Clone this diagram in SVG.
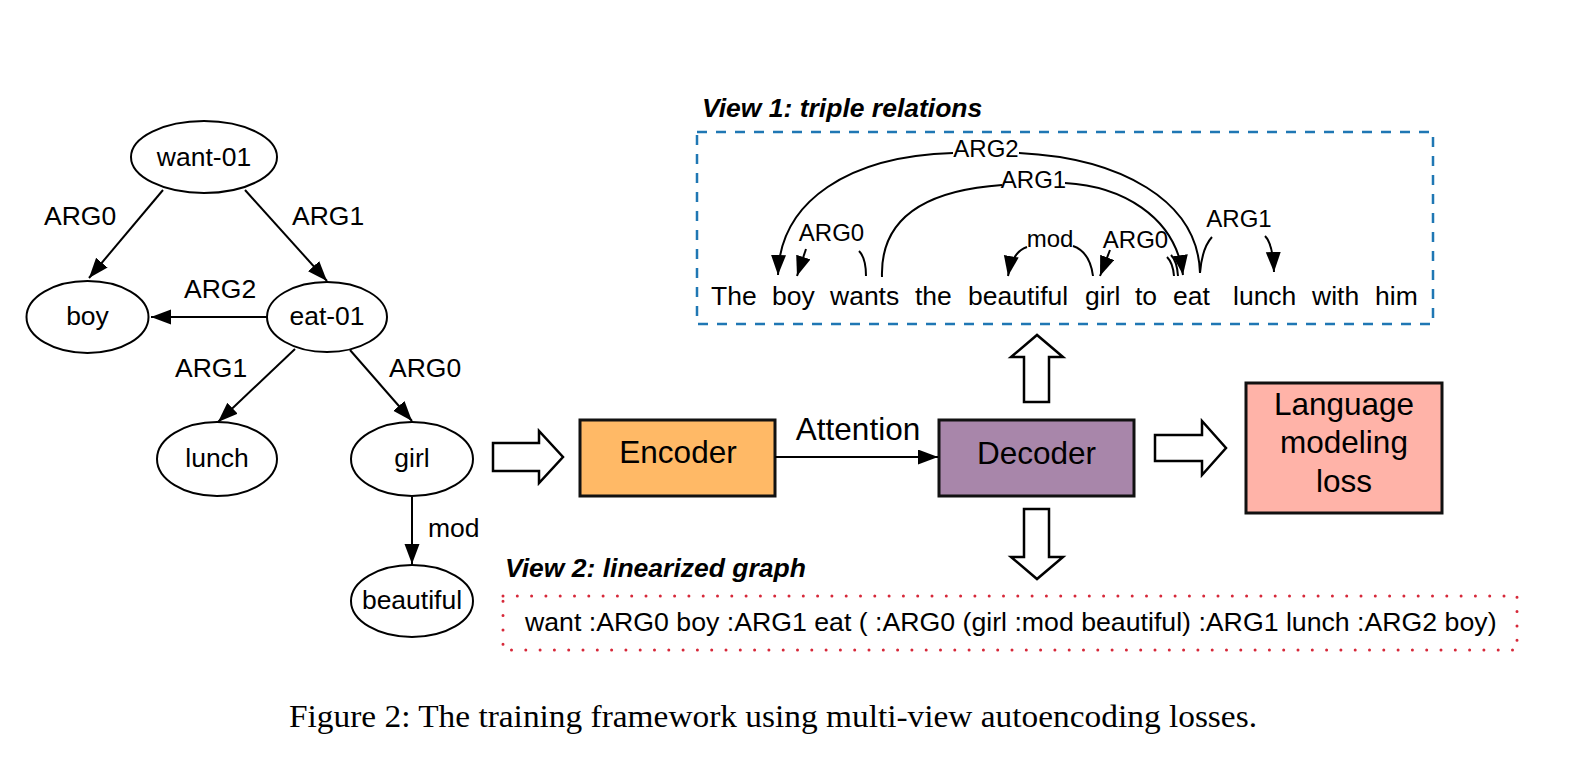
<svg xmlns="http://www.w3.org/2000/svg" width="1592" height="772" viewBox="0 0 1592 772">
<style>
text{font-family:"Liberation Sans",Arial,sans-serif;fill:#000}
.n{font-size:26.5px;text-anchor:middle}
.l{font-size:26.5px}
.s{font-size:24px;text-anchor:middle}
.w{font-size:26.5px}
.b{font-size:31.5px;text-anchor:middle}
.v{font-size:26.5px;font-weight:bold;font-style:italic}
.e{fill:#fff;stroke:#000;stroke-width:2}
.c{fill:none;stroke:#000;stroke-width:2}
.box{stroke:#111;stroke-width:3}
.blk{fill:#fff;stroke:#000;stroke-width:2.5;stroke-linejoin:miter}
.cap{font-family:"Liberation Serif","Times New Roman",serif;font-size:32px}
</style>
<defs>
<marker id="ah" markerUnits="userSpaceOnUse" markerWidth="22" markerHeight="16" refX="20" refY="7.5" orient="auto"><path d="M0,0 L20,7.5 L0,15 z" fill="#000"/></marker>
</defs>
<rect width="1592" height="772" fill="#fff"/>

<g id="amr-nodes">
<g id="node-want01"><ellipse class="e" cx="204" cy="157" rx="73" ry="36"/><text class="n" x="204" y="166">want-01</text></g>
<g id="node-boy"><ellipse class="e" cx="87.5" cy="317" rx="61" ry="36"/><text class="n" x="87.5" y="325">boy</text></g>
<g id="node-eat01"><ellipse class="e" cx="327" cy="317" rx="60" ry="35"/><text class="n" x="327" y="325">eat-01</text></g>
<g id="node-lunch"><ellipse class="e" cx="217" cy="459" rx="60" ry="37"/><text class="n" x="217" y="467">lunch</text></g>
<g id="node-girl"><ellipse class="e" cx="412" cy="459" rx="61" ry="37"/><text class="n" x="412" y="467">girl</text></g>
<g id="node-beautiful"><ellipse class="e" cx="412" cy="601" rx="61" ry="36"/><text class="n" x="412" y="609">beautiful</text></g>
</g>

<g id="amr-connectors">
<line class="c" x1="163" y1="190" x2="89" y2="278" marker-end="url(#ah)"/>
<line class="c" x1="245" y1="190" x2="327" y2="281" marker-end="url(#ah)"/>
<line class="c" x1="267" y1="317" x2="151" y2="317" marker-end="url(#ah)"/>
<line class="c" x1="295" y1="349" x2="218" y2="422" marker-end="url(#ah)"/>
<line class="c" x1="350" y1="350" x2="412" y2="421" marker-end="url(#ah)"/>
<line class="c" x1="412" y1="497" x2="412" y2="564" marker-end="url(#ah)"/>
<text class="l" x="44" y="225">ARG0</text>
<text class="l" x="292" y="225">ARG1</text>
<text class="l" x="184" y="298">ARG2</text>
<text class="l" x="175" y="377">ARG1</text>
<text class="l" x="389" y="377">ARG0</text>
<text class="l" x="428" y="537">mod</text>
</g>

<g id="view1">
<text class="v" x="702" y="117">View 1: triple relations</text>
<rect x="697" y="132" width="736" height="192" fill="none" stroke="#1f77b4" stroke-width="2.5" stroke-dasharray="10 9"/>
<g id="sentence">
<text class="w" x="711" y="305">The</text>
<text class="w" x="772" y="305">boy</text>
<text class="w" x="830" y="305">wants</text>
<text class="w" x="915" y="305">the</text>
<text class="w" x="968" y="305">beautiful</text>
<text class="w" x="1085" y="305">girl</text>
<text class="w" x="1135" y="305">to</text>
<text class="w" x="1173" y="305">eat</text>
<text class="w" x="1233" y="305">lunch</text>
<text class="w" x="1312" y="305">with</text>
<text class="w" x="1375" y="305">him</text>
</g>
<g id="view1-connectors">
<path class="c" d="M 953 153 C 850 156, 780 200, 778 275" marker-end="url(#ah)"/>
<path class="c" d="M 1019 153 C 1120 158, 1198 200, 1200 273"/>
<path class="c" d="M 1002 185 C 930 190, 880 215, 882 277"/>
<path class="c" d="M 1065 183 C 1120 186, 1175 215, 1183 275" marker-end="url(#ah)"/>
<path class="c" d="M 859 251 Q 866 258, 866 276"/>
<path class="c" d="M 806 249 L 797 276" marker-end="url(#ah)"/>
<path class="c" d="M 1027 247 Q 1012 252, 1008 276" marker-end="url(#ah)"/>
<path class="c" d="M 1073 246 Q 1090 252, 1093 276"/>
<path class="c" d="M 1110 250 L 1100 276" marker-end="url(#ah)"/>
<path class="c" d="M 1167 257 Q 1173 263, 1174 276"/>
<path class="c" d="M 1171 255 Q 1177 261, 1178 276"/>
<path class="c" d="M 1200 273 Q 1202 248, 1212 237"/>
<path class="c" d="M 1265 236 Q 1273 244, 1274 272" marker-end="url(#ah)"/>
<text class="s" x="986" y="157">ARG2</text>
<text class="s" x="1033.5" y="188">ARG1</text>
<text class="s" x="831.5" y="241">ARG0</text>
<text class="s" x="1050" y="247">mod</text>
<text class="s" x="1135.5" y="248">ARG0</text>
<text class="s" x="1239" y="227">ARG1</text>
</g>
</g>

<g id="pipeline">
<g id="node-encoder"><rect class="box" x="580" y="420" width="195" height="76" fill="#FFB966"/><text class="b" x="678" y="463">Encoder</text></g>
<g id="node-decoder"><rect class="box" x="939" y="420" width="195" height="76" fill="#A886AA"/><text class="b" x="1036.5" y="464">Decoder</text></g>
<g id="node-lm"><rect class="box" x="1246" y="383" width="196" height="130" fill="#FFB3A8"/>
<text class="b" x="1344" y="415">Language</text>
<text class="b" x="1344" y="453">modeling</text>
<text class="b" x="1344" y="492">loss</text></g>
</g>

<g id="pipeline-connectors">
<line class="c" x1="775" y1="457" x2="938" y2="457" marker-end="url(#ah)"/>
<text class="b" x="858" y="440">Attention</text>
<polygon class="blk" points="493,443 539,443 539,431 563,457 539,483 539,471 493,471"/>
<polygon class="blk" points="1155,435 1202,435 1202,421 1226,448 1202,475 1202,461 1155,461"/>
<polygon class="blk" points="1024,402 1024,357 1011,357 1037,335 1063,357 1049,357 1049,402"/>
<polygon class="blk" points="1024,509 1049,509 1049,557 1063,557 1037,579 1011,557 1024,557"/>
</g>

<g id="view2">
<text class="v" x="505" y="577">View 2: linearized graph</text>
<rect x="503" y="596" width="1014" height="54" fill="none" stroke="#d62839" stroke-width="3" stroke-linecap="round" stroke-dasharray="0 14.3"/>
<text style="font-size:26.7px" x="525" y="631">want :ARG0 boy :ARG1 eat ( :ARG0 (girl :mod beautiful) :ARG1 lunch :ARG2 boy)</text>
</g>

<text class="cap" x="289" y="727" textLength="968" lengthAdjust="spacingAndGlyphs">Figure 2: The training framework using multi-view autoencoding losses.</text>
</svg>
